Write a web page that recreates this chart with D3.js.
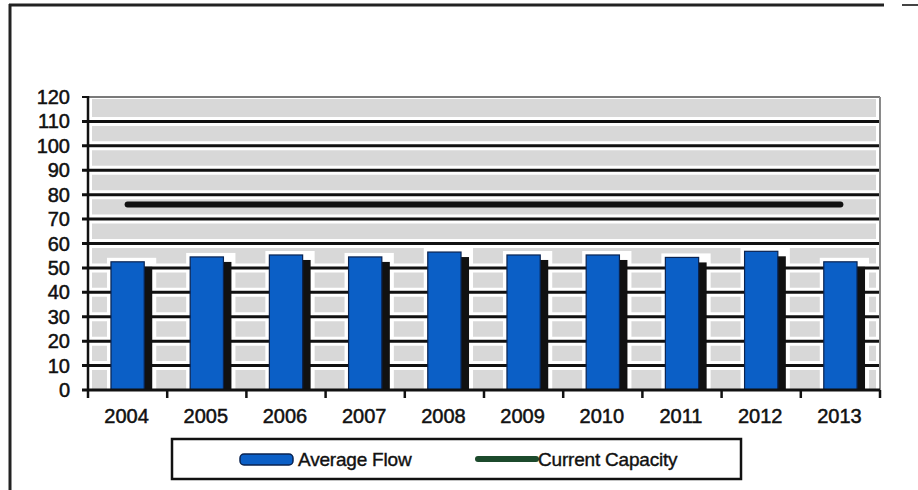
<!DOCTYPE html>
<html>
<head>
<meta charset="utf-8">
<script src="https://cdn.jsdelivr.net/npm/d3@7"></script>
<style>
  html, body { margin: 0; padding: 0; background: #fff; }
  svg { display: block; }
  text { font-family: "Liberation Sans", Arial, Helvetica, sans-serif; fill: #111; }
</style>
</head>
<body>
<svg id="chart" width="918" height="490"></svg>
<script>
const years = ["2004","2005","2006","2007","2008","2009","2010","2011","2012","2013"];
const averageFlow = [52.5, 54.5, 55.3, 54.5, 56.5, 55.3, 55.3, 54.3, 56.8, 52.5];
const currentCapacity = [76, 76, 76, 76, 76, 76, 76, 76, 76, 76];
const yTicks = [0, 10, 20, 30, 40, 50, 60, 70, 80, 90, 100, 110, 120];
const seriesNames = ["Average Flow", "Current Capacity"];

(function () {
const svg = d3.select("#chart");
const pLeft = 88, pRight = 880, pTop = 97, pBottom = 390;

const x = d3.scaleBand().domain(years).range([pLeft, pRight]).padding(0);
const y = d3.scaleLinear().domain([0, 120]).range([pBottom, pTop]);
const barW = x.bandwidth() * 0.42;
const shadowDx = 8, shadowDy = 5;

// outer frame
svg.append("line").attr("x1", 10).attr("x2", 10).attr("y1", 4).attr("y2", 490)
  .attr("stroke", "#222").attr("stroke-width", 3);
svg.append("line").attr("x1", 9).attr("x2", 884).attr("y1", 5).attr("y2", 5)
  .attr("stroke", "#222").attr("stroke-width", 3);
svg.append("line").attr("x1", 902).attr("x2", 918).attr("y1", 5).attr("y2", 5)
  .attr("stroke", "#444").attr("stroke-width", 2);

// plot background
svg.append("rect").attr("x", pLeft + 4).attr("y", pTop + 2)
  .attr("width", pRight - pLeft - 8).attr("height", pBottom - pTop - 3)
  .attr("fill", "#d8d8d8");

// white halos around bars
svg.append("g").selectAll("rect").data(years).join("rect")
  .attr("x", d => x(d) + (x.bandwidth() - barW) / 2 - 4)
  .attr("y", (d, i) => y(averageFlow[i]) - 4)
  .attr("width", barW + shadowDx + 8)
  .attr("height", (d, i) => pBottom - y(averageFlow[i]) + 4)
  .attr("fill", "#fff");

// gridlines (white halo + black line)
const gridVals = yTicks.filter(v => v > 0 && v < 120);
svg.append("g").selectAll("line").data(gridVals).join("line")
  .attr("x1", pLeft).attr("x2", pRight)
  .attr("y1", d => y(d)).attr("y2", d => y(d))
  .attr("stroke", "#fff").attr("stroke-width", 9);
svg.append("g").selectAll("line").data(gridVals).join("line")
  .attr("x1", pLeft - 6).attr("x2", pRight)
  .attr("y1", d => y(d)).attr("y2", d => y(d))
  .attr("stroke", "#111").attr("stroke-width", 3);

// top (120) line and right border
svg.append("line").attr("x1", pLeft).attr("x2", pRight).attr("y1", y(120)).attr("y2", y(120))
  .attr("stroke", "#7a7a7a").attr("stroke-width", 2);
svg.append("line").attr("x1", pRight).attr("x2", pRight).attr("y1", y(120)).attr("y2", pBottom)
  .attr("stroke", "#8a8a8a").attr("stroke-width", 2);

// bar shadows
svg.append("g").selectAll("rect").data(years).join("rect")
  .attr("x", d => x(d) + (x.bandwidth() - barW) / 2 + shadowDx)
  .attr("y", (d, i) => y(averageFlow[i]) + shadowDy)
  .attr("width", barW)
  .attr("height", (d, i) => pBottom - y(averageFlow[i]) - shadowDy)
  .attr("fill", "#111");

// bars
svg.append("g").selectAll("rect").data(years).join("rect")
  .attr("x", d => x(d) + (x.bandwidth() - barW) / 2)
  .attr("y", (d, i) => y(averageFlow[i]))
  .attr("width", barW)
  .attr("height", (d, i) => pBottom - y(averageFlow[i]))
  .attr("fill", "#0b5fc6")
  .attr("stroke", "#0a2350").attr("stroke-width", 1.2);

// axes lines
svg.append("line").attr("x1", pLeft).attr("x2", pLeft).attr("y1", y(120) - 1).attr("y2", pBottom + 1)
  .attr("stroke", "#111").attr("stroke-width", 2.5);
svg.append("line").attr("x1", pLeft - 6).attr("x2", pRight).attr("y1", pBottom).attr("y2", pBottom)
  .attr("stroke", "#111").attr("stroke-width", 3);
svg.append("g").selectAll("line").data([0, 120]).join("line")
  .attr("x1", pLeft - 6).attr("x2", pLeft)
  .attr("y1", d => y(d)).attr("y2", d => y(d))
  .attr("stroke", "#111").attr("stroke-width", 2);
const boundaries = years.map(d => x(d)).concat([pRight]);
svg.append("g").selectAll("line").data(boundaries).join("line")
  .attr("x1", d => d).attr("x2", d => d)
  .attr("y1", pBottom).attr("y2", pBottom + 8)
  .attr("stroke", "#111").attr("stroke-width", 2.5);

// capacity line
const line = d3.line().x((d, i) => x(years[i]) + x.bandwidth() / 2).y(d => y(d));
svg.append("path").datum(currentCapacity).attr("d", line)
  .attr("fill", "none").attr("stroke", "#111").attr("stroke-width", 6)
  .attr("stroke-linecap", "round");

// y labels
svg.append("g").selectAll("text").data(yTicks).join("text")
  .attr("x", 70).attr("y", d => y(d) + 7)
  .attr("text-anchor", "end").attr("font-size", 20)
  .attr("stroke", "#111").attr("stroke-width", 0.5)
  .text(d => d);

// x labels
svg.append("g").selectAll("text").data(years).join("text")
  .attr("x", d => x(d) + x.bandwidth() / 2 - 1).attr("y", 423)
  .attr("text-anchor", "middle").attr("font-size", 20)
  .attr("stroke", "#111").attr("stroke-width", 0.5)
  .text(d => d);

// legend
const lg = svg.append("g");
lg.append("rect").attr("x", 172).attr("y", 439).attr("width", 569).attr("height", 40)
  .attr("fill", "#fff").attr("stroke", "#111").attr("stroke-width", 2.5);
lg.append("rect").attr("x", 240).attr("y", 454).attr("width", 53).attr("height", 11).attr("rx", 4)
  .attr("fill", "#0b5fc6").attr("stroke", "#0a2350").attr("stroke-width", 1.5);
lg.append("text").attr("x", 298).attr("y", 466).attr("font-size", 19)
  .attr("letter-spacing", -0.2).attr("stroke", "#111").attr("stroke-width", 0.4)
  .text(seriesNames[0]);
lg.append("line").attr("x1", 478).attr("x2", 536).attr("y1", 459).attr("y2", 459)
  .attr("stroke", "#1c4a2c").attr("stroke-width", 6).attr("stroke-linecap", "round");
lg.append("text").attr("x", 538).attr("y", 466).attr("font-size", 19)
  .attr("letter-spacing", -0.2).attr("stroke", "#111").attr("stroke-width", 0.4)
  .text(seriesNames[1]);
})();
</script>
</body>
</html>
